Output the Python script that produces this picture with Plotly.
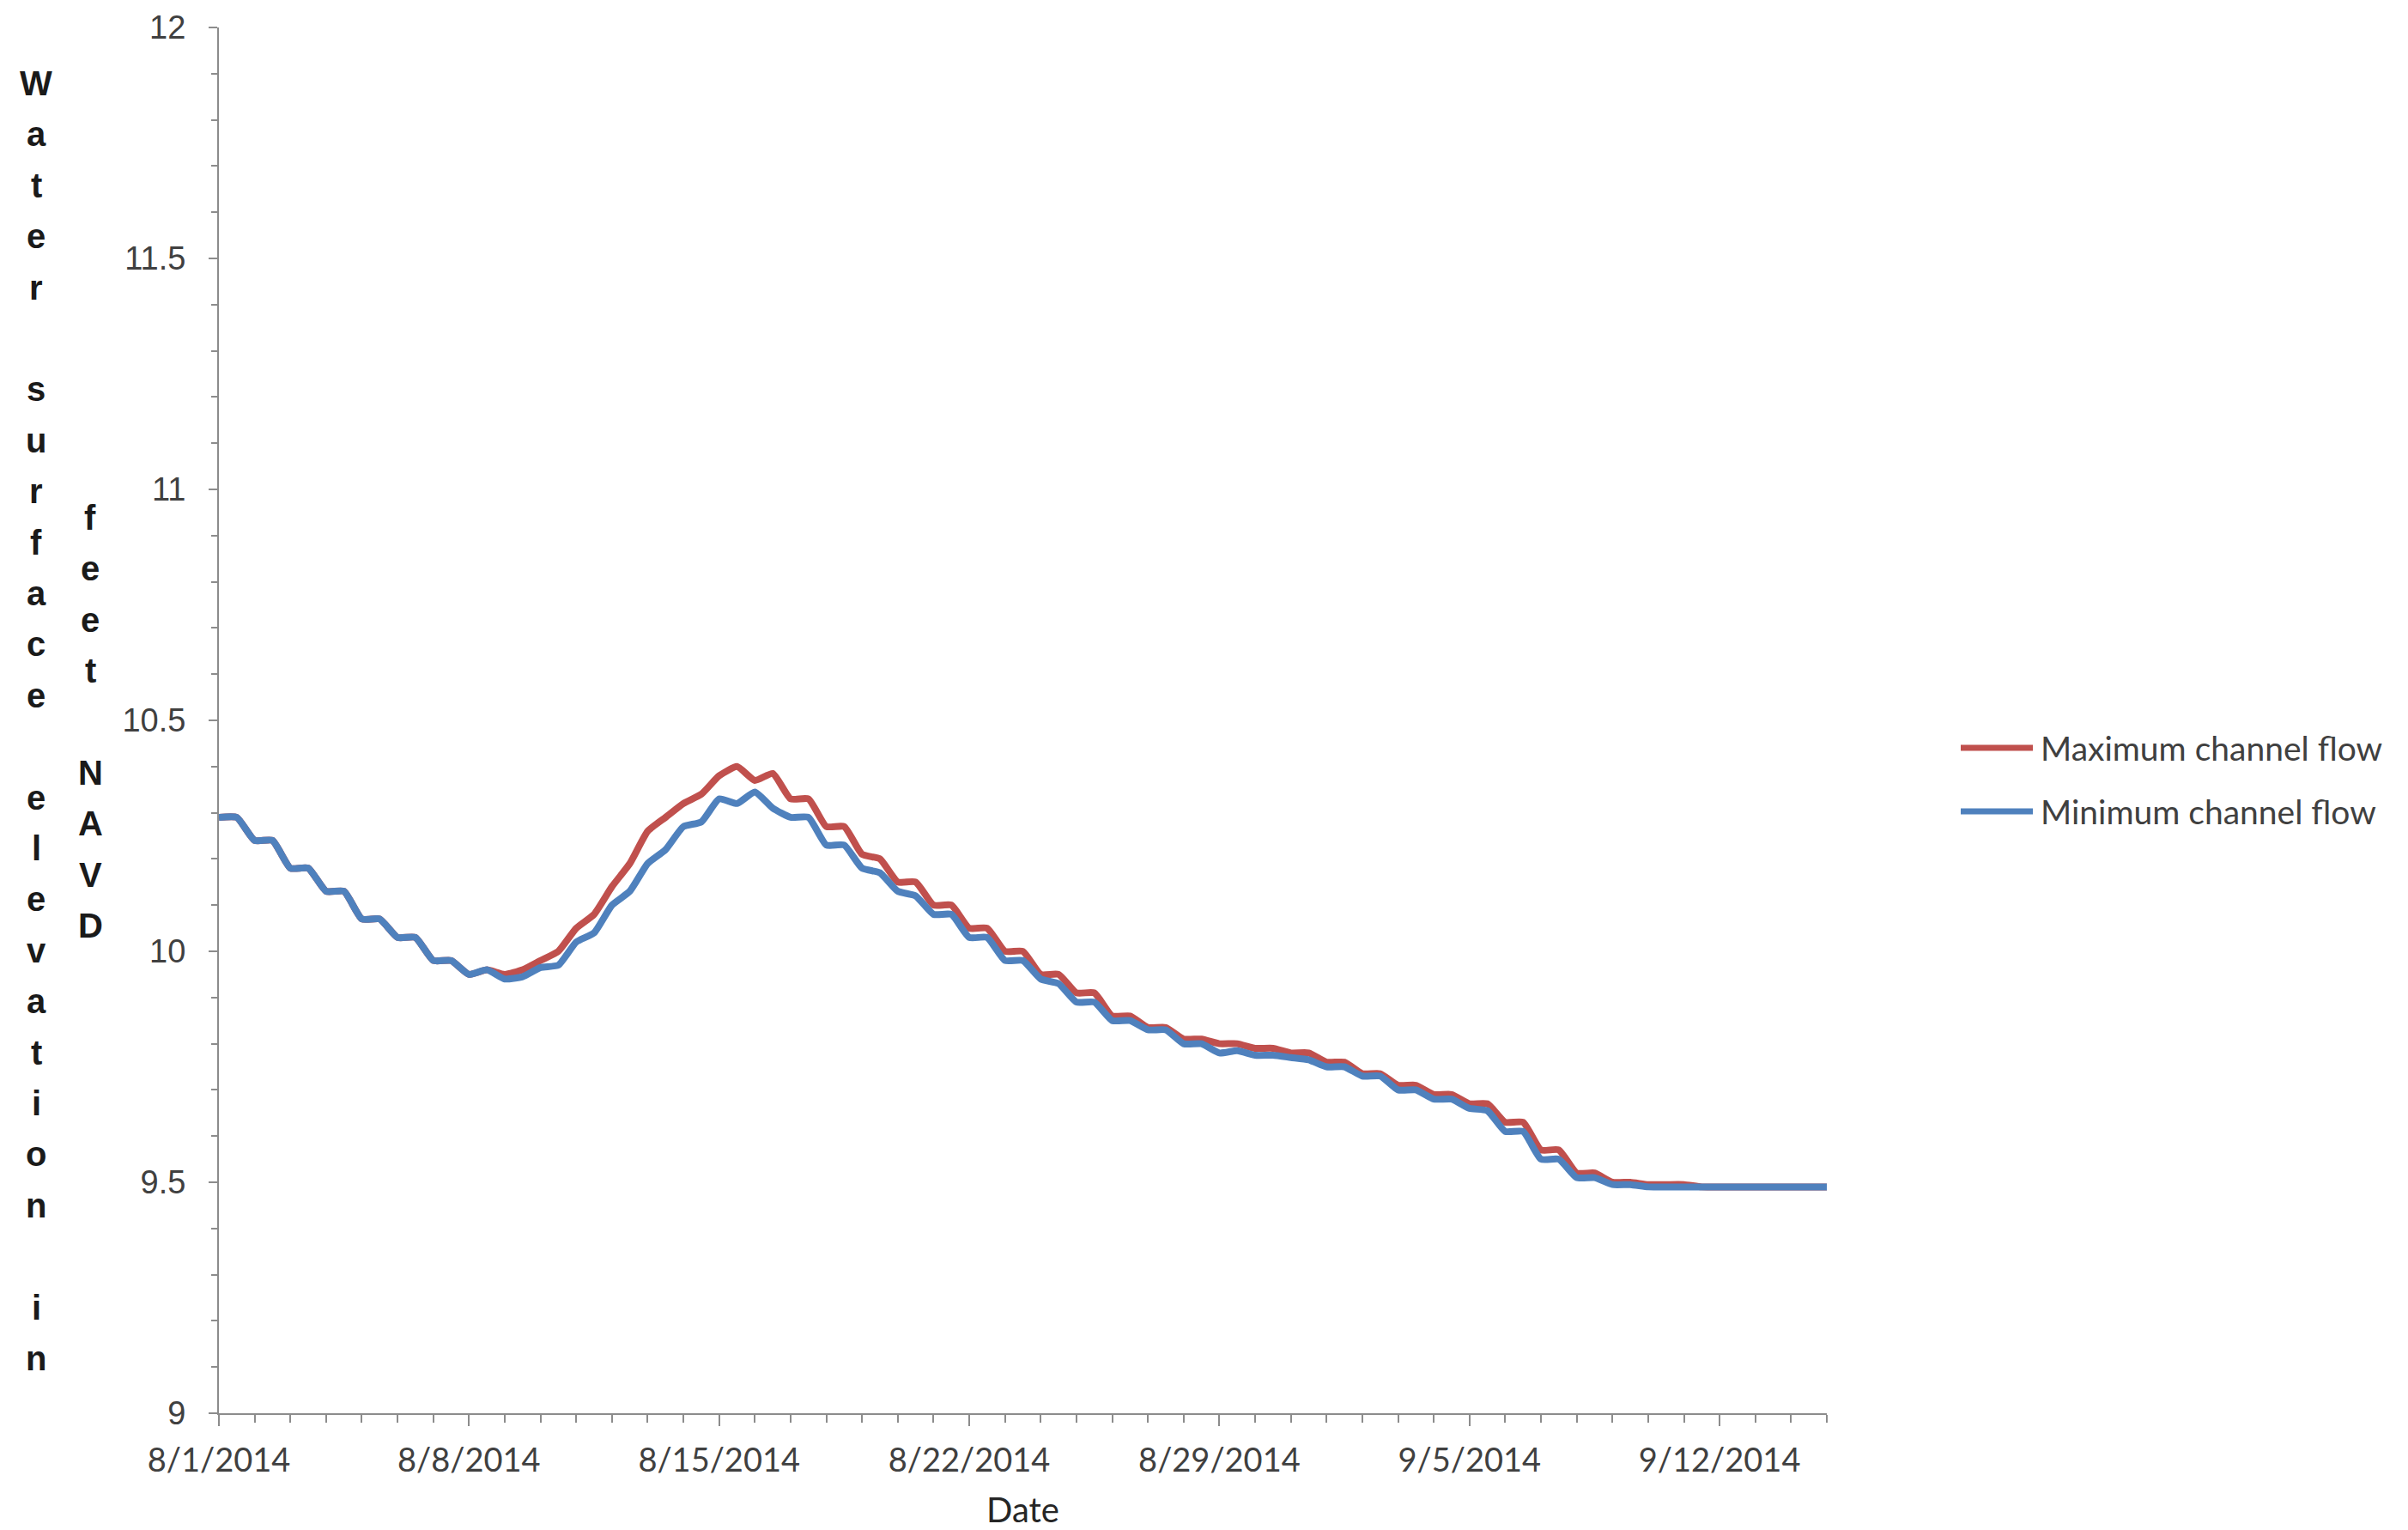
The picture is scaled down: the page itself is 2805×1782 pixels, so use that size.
import plotly.graph_objects as go
import pandas as pd

# ---------------- data (12-hour steps from 8/1/2014 00:00) ----------------
times = pd.date_range("2014-08-01", periods=91, freq="12h")

max_flow = [
    10.29, 10.29, 10.24, 10.24, 10.18, 10.18, 10.13, 10.13, 10.07, 10.07,
    10.03, 10.03, 9.98, 9.98, 9.95, 9.96, 9.95, 9.96, 9.98, 10.00,
    10.05, 10.08, 10.14, 10.19, 10.26, 10.29, 10.32, 10.34, 10.38, 10.40,
    10.37, 10.385, 10.33, 10.33, 10.27, 10.27, 10.21, 10.20, 10.15, 10.15,
    10.10, 10.10, 10.05, 10.05, 10.00, 10.00, 9.95, 9.95, 9.91, 9.91,
    9.86, 9.86, 9.835, 9.835, 9.81, 9.81, 9.80, 9.80, 9.79, 9.79,
    9.78, 9.78, 9.76, 9.76, 9.735, 9.735, 9.71, 9.71, 9.69, 9.69,
    9.67, 9.67, 9.63, 9.63, 9.57, 9.57, 9.52, 9.52, 9.50, 9.50,
    9.495, 9.495, 9.495, 9.49, 9.49, 9.49, 9.49, 9.49, 9.49, 9.49,
    9.49,
]

min_flow = [
    10.29, 10.29, 10.24, 10.24, 10.18, 10.18, 10.13, 10.13, 10.07, 10.07,
    10.03, 10.03, 9.98, 9.98, 9.95, 9.96, 9.94, 9.945, 9.965, 9.97,
    10.02, 10.04, 10.10, 10.13, 10.19, 10.22, 10.27, 10.28, 10.33, 10.32,
    10.345, 10.31, 10.29, 10.29, 10.23, 10.23, 10.18, 10.17, 10.13, 10.12,
    10.08, 10.08, 10.03, 10.03, 9.98, 9.98, 9.94, 9.93, 9.89, 9.89,
    9.85, 9.85, 9.83, 9.83, 9.80, 9.80, 9.78, 9.785, 9.775, 9.775,
    9.77, 9.765, 9.75, 9.75, 9.73, 9.73, 9.70, 9.70, 9.68, 9.68,
    9.66, 9.655, 9.61, 9.61, 9.55, 9.55, 9.51, 9.51, 9.495, 9.495,
    9.49, 9.49, 9.49, 9.49, 9.49, 9.49, 9.49, 9.49, 9.49, 9.49,
    9.49,
]

series_names = ["Maximum channel flow", "Minimum channel flow"]
series_colors = ["#C0504D", "#4F81BD"]
y_title_col1 = "Water surface elevation in"
y_title_col2 = "feet NAVD"
x_title = "Date"

# ---------------- figure ----------------
W, H = 2805, 1782
ML, MR, MT, MB = 255, 677, 32, 136
PW, PH = W - ML - MR, H - MT - MB
AXC = "#8c8c8c"
DAY = 86400000
xrange = ["2014-08-01 00:00", "2014-09-15 00:00"]

def px_x(xp):
    return (xp - ML) / PW

def px_y(yp):
    return (H - MB - yp) / PH

fig = go.Figure()
for name, vals, col in zip(series_names, [max_flow, min_flow], series_colors):
    fig.add_trace(go.Scatter(x=times, y=vals, mode="lines", name=name,
                             showlegend=False,
                             line=dict(color=col, width=8, shape="spline", smoothing=0.5)))

fig.update_layout(
    width=W, height=H, autosize=False,
    margin=dict(l=ML, r=MR, t=MT, b=MB, pad=0, autoexpand=False),
    paper_bgcolor="white", plot_bgcolor="white",
    showlegend=False,
    xaxis=dict(type="date", range=xrange, tick0="2014-08-01", dtick=7 * DAY,
               automargin=False,
               tickformat="%-m/%-d/%Y", ticks="outside", ticklen=13, tickwidth=2,
               tickcolor=AXC, showline=True, linecolor=AXC, linewidth=2,
               showgrid=False, zeroline=False,
               minor=dict(dtick=DAY, tick0="2014-08-01", ticks="outside", ticklen=9,
                          tickwidth=2, tickcolor=AXC, showgrid=False),
               tickfont=dict(family="Lato", size=38, color="#404040"),
               ticklabelstandoff=7,
               title=dict(text=x_title, font=dict(family="Lato", size=40, color="#262626"),
                          standoff=36)),
    yaxis=dict(range=[9, 12], tick0=9, dtick=0.5, ticks="outside", ticklen=10,
               automargin=False,
               tickwidth=2, tickcolor=AXC, showline=True, linecolor=AXC, linewidth=2,
               showgrid=False, zeroline=False,
               minor=dict(dtick=0.1, tick0=9, ticks="outside", ticklen=7, tickwidth=2,
                          tickcolor=AXC, showgrid=False),
               tickfont=dict(family="Liberation Sans", size=38, color="#404040"),
               ticklabelstandoff=19),
    # overlay axes giving the "cross" style major tick marks
    xaxis2=dict(type="date", range=xrange, overlaying="x", anchor="y2", side="bottom",
                automargin=False,
                tick0="2014-08-01", dtick=7 * DAY, ticks="inside", ticklen=11,
                tickwidth=2, tickcolor=AXC, showticklabels=False, showline=False,
                showgrid=False, zeroline=False),
    yaxis2=dict(range=[9, 12], overlaying="y", anchor="x2", side="left",
                automargin=False,
                tick0=9, dtick=0.5, ticks="inside", ticklen=11, tickwidth=2,
                tickcolor=AXC, showticklabels=False, showline=False,
                showgrid=False, zeroline=False),
)

# legend (drawn as in the reference: long line samples to the left of the names)
legend_rows_y = [871, 945]
for name, col, ly in zip(series_names, series_colors, legend_rows_y):
    fig.add_shape(type="line", xref="paper", yref="paper",
                  x0=px_x(2284), x1=px_x(2368), y0=px_y(ly), y1=px_y(ly),
                  line=dict(color=col, width=7))
    fig.add_annotation(text=name, xref="paper", yref="paper",
                       x=px_x(2375), y=px_y(ly), xanchor="left", yanchor="middle",
                       showarrow=False,
                       font=dict(family="Lato", size=39, color="#404040"))

# stacked-letter y axis title (two columns, as in the reference)
PITCH = 59.4
def add_column(text, x_px, first_center_px):
    for i, ch in enumerate(text):
        if ch == " ":
            continue
        ypx = first_center_px + i * PITCH
        fig.add_annotation(text="<b>%s</b>" % ch, xref="paper", yref="paper",
                           x=px_x(x_px), y=px_y(ypx),
                           xanchor="center", yanchor="middle", showarrow=False,
                           font=dict(family="Liberation Sans", size=40, color="#1a1a1a"))

add_column(y_title_col1, 42, 97)
add_column(y_title_col2, 105, 603)

# remove the browser's default page margin so the figure sits at the page origin
fig.write_html("out.html", config={"displayModeBar": False},
               post_script="document.body.style.margin='0';document.body.style.padding='0';")
